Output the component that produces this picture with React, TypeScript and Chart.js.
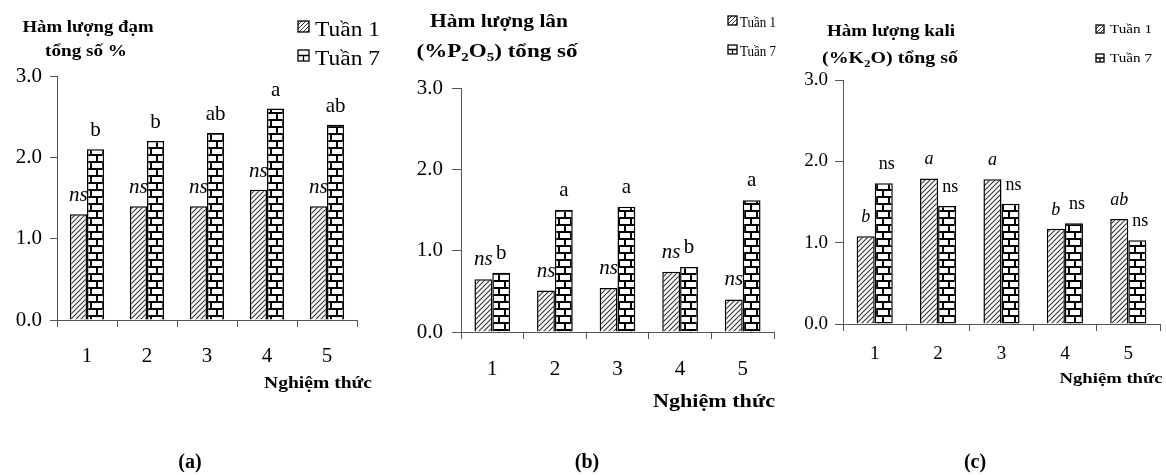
import React, { useEffect, useRef } from 'react';
import { Chart, registerables } from 'chart.js';

Chart.register(...registerables);

// ---------- data ----------
const categories = ['1', '2', '3', '4', '5'];
const yTickLabels = ['0.0', '1.0', '2.0', '3.0'];
const seriesNames = ['Tuần 1', 'Tuần 7'];

const nitrogenWeek1 = [1.3, 1.4, 1.4, 1.6, 1.4];
const nitrogenWeek7 = [2.1, 2.2, 2.3, 2.6, 2.4];
const nitrogenLabels1 = ['ns', 'ns', 'ns', 'ns', 'ns'];
const nitrogenLabels7 = ['b', 'b', 'ab', 'a', 'ab'];

const phosphorusWeek1 = [0.65, 0.51, 0.54, 0.74, 0.4];
const phosphorusWeek7 = [0.73, 1.5, 1.54, 0.8, 1.62];
const phosphorusLabels1 = ['ns', 'ns', 'ns', 'ns', 'ns'];
const phosphorusLabels7 = ['b', 'a', 'a', 'b', 'a'];

const potassiumWeek1 = [1.08, 1.79, 1.78, 1.17, 1.29];
const potassiumWeek7 = [1.73, 1.45, 1.48, 1.24, 1.03];
const potassiumLabels1 = ['b', 'a', 'a', 'b', 'ab'];
const potassiumLabels7 = ['ns', 'ns', 'ns', 'ns', 'ns'];

const xAxisTitle = 'Nghiệm thức';

// ---------- styling helpers ----------
const FAMILY = "'Liberation Serif', 'Times New Roman', serif";
const AXIS = '#555';
const W = 1166;
const H = 475;

function makeHatch(): CanvasPattern {
  const c = document.createElement('canvas');
  c.width = 5;
  c.height = 5;
  const g = c.getContext('2d')!;
  g.fillStyle = '#fff';
  g.fillRect(0, 0, 5, 5);
  g.strokeStyle = '#333';
  g.lineWidth = 1.1;
  g.beginPath();
  g.moveTo(-1, 6);
  g.lineTo(6, -1);
  g.moveTo(-1, 1);
  g.lineTo(1, -1);
  g.moveTo(4, 6);
  g.lineTo(6, 4);
  g.stroke();
  return g.createPattern(c, 'repeat')!;
}

function makeBrick(): CanvasPattern {
  const c = document.createElement('canvas');
  c.width = 12;
  c.height = 14;
  const g = c.getContext('2d')!;
  g.fillStyle = '#fff';
  g.fillRect(0, 0, 12, 14);
  g.fillStyle = '#000';
  g.fillRect(0, 0, 12, 2);
  g.fillRect(0, 7, 12, 2);
  g.fillRect(0, 2, 2, 5);
  g.fillRect(6, 9, 2, 5);
  return g.createPattern(c, 'repeat')!;
}

type Seg = { t: string; sub?: boolean };
type TextSpec = {
  segs: Seg[];
  x: number;
  y: number;
  size: number;
  bold?: boolean;
  italic?: boolean;
  w?: number;
  align?: 'center' | 'left';
};

function fontStr(size: number, bold?: boolean, italic?: boolean) {
  return `${italic ? 'italic ' : ''}${bold ? 'bold ' : ''}${size}px ${FAMILY}`;
}

function drawSpec(ctx: CanvasRenderingContext2D, s: TextSpec) {
  const widths: number[] = [];
  let total = 0;
  for (const seg of s.segs) {
    ctx.font = fontStr(seg.sub ? s.size * 0.65 : s.size, s.bold, s.italic);
    const w = ctx.measureText(seg.t).width;
    widths.push(w);
    total += w;
  }
  const sx = s.w ? s.w / total : 1;
  const x0 = s.align === 'left' ? s.x : s.x - (total * sx) / 2;
  ctx.save();
  ctx.fillStyle = '#000';
  ctx.textAlign = 'left';
  ctx.textBaseline = 'alphabetic';
  ctx.translate(x0, s.y);
  ctx.scale(sx, 1);
  let cx = 0;
  s.segs.forEach((seg, i) => {
    ctx.font = fontStr(seg.sub ? s.size * 0.65 : s.size, s.bold, s.italic);
    ctx.fillText(seg.t, cx, seg.sub ? s.size * 0.22 : 0);
    cx += widths[i];
  });
  ctx.restore();
}

type Glyph = { x: number; y: number; s: number; kind: 'hatch' | 'brick' };

function drawGlyph(ctx: CanvasRenderingContext2D, g: Glyph) {
  ctx.save();
  ctx.fillStyle = '#fff';
  ctx.fillRect(g.x, g.y, g.s, g.s);
  ctx.strokeStyle = '#000';
  ctx.lineWidth = 1.3;
  ctx.beginPath();
  ctx.rect(g.x, g.y, g.s, g.s);
  ctx.clip();
  if (g.kind === 'hatch') {
    ctx.lineWidth = 1;
    ctx.strokeStyle = '#333';
    ctx.beginPath();
    for (let k = -g.s; k < g.s * 2; k += 4) {
      ctx.moveTo(g.x + k, g.y + g.s);
      ctx.lineTo(g.x + k + g.s, g.y);
    }
    ctx.stroke();
  } else {
    ctx.lineWidth = 1.3;
    ctx.beginPath();
    ctx.moveTo(g.x, g.y + g.s / 2);
    ctx.lineTo(g.x + g.s, g.y + g.s / 2);
    ctx.moveTo(g.x + g.s / 2, g.y + g.s / 2);
    ctx.lineTo(g.x + g.s / 2, g.y + g.s);
    ctx.stroke();
  }
  ctx.restore();
  ctx.save();
  ctx.strokeStyle = '#000';
  ctx.lineWidth = 1.3;
  ctx.strokeRect(g.x, g.y, g.s, g.s);
  ctx.restore();
}

type Panel = {
  week1: number[];
  week7: number[];
  labels1: string[];
  labels7: string[];
  pad: { left: number; top: number; right: number; bottom: number };
  yW: number;
  xH: number;
  tickSize: number;
  xTickPad: number;
  yTickPad: number;
  yTickLen: number;
  labelSize: number;
  labelOff: number;
  italic1: boolean;
  italic7: boolean;
  dx7: number;
  texts: TextSpec[];
  glyphs: Glyph[];
};

const panels: Panel[] = [
  {
    week1: nitrogenWeek1,
    week7: nitrogenWeek7,
    labels1: nitrogenLabels1,
    labels7: nitrogenLabels7,
    pad: { left: 0, top: 76, right: W - 357, bottom: 0 },
    yW: 57,
    xH: H - 320,
    tickSize: 21,
    xTickPad: 17,
    yTickPad: 8,
    yTickLen: 7,
    labelSize: 21,
    labelOff: 13,
    italic1: true,
    italic7: false,
    dx7: 0,
    texts: [
      { segs: [{ t: 'Hàm lượng đạm' }], x: 88, y: 32, size: 17, bold: true, w: 131 },
      { segs: [{ t: 'tổng số %' }], x: 86, y: 56, size: 17, bold: true, w: 82 },
      { segs: [{ t: seriesNames[0] }], x: 315, y: 36, size: 20, align: 'left', w: 65 },
      { segs: [{ t: seriesNames[1] }], x: 315, y: 65, size: 20, align: 'left', w: 65 },
      { segs: [{ t: xAxisTitle }], x: 318, y: 388, size: 16, bold: true, w: 108 },
      { segs: [{ t: '(a)' }], x: 190, y: 468, size: 20, bold: true },
    ],
    glyphs: [
      { x: 298, y: 21, s: 11, kind: 'hatch' },
      { x: 298, y: 50, s: 11, kind: 'brick' },
    ],
  },
  {
    week1: phosphorusWeek1,
    week7: phosphorusWeek7,
    labels1: phosphorusLabels1,
    labels7: phosphorusLabels7,
    pad: { left: 390, top: 88, right: W - 774, bottom: 0 },
    yW: 71,
    xH: H - 332,
    tickSize: 21,
    xTickPad: 18,
    yTickPad: 9,
    yTickLen: 9,
    labelSize: 21,
    labelOff: 14,
    italic1: true,
    italic7: false,
    dx7: 0,
    texts: [
      { segs: [{ t: 'Hàm lượng lân' }], x: 499, y: 27, size: 18, bold: true, w: 138 },
      {
        segs: [{ t: '(%P' }, { t: '2', sub: true }, { t: 'O' }, { t: '5', sub: true }, { t: ') tổng số' }],
        x: 497,
        y: 57,
        size: 18,
        bold: true,
        w: 161,
      },
      { segs: [{ t: seriesNames[0] }], x: 740, y: 27, size: 15, align: 'left', w: 36 },
      { segs: [{ t: seriesNames[1] }], x: 740, y: 56, size: 15, align: 'left', w: 36 },
      { segs: [{ t: xAxisTitle }], x: 714, y: 407, size: 18, bold: true, w: 122 },
      { segs: [{ t: '(b)' }], x: 587, y: 468, size: 20, bold: true },
    ],
    glyphs: [
      { x: 728, y: 16, s: 9, kind: 'hatch' },
      { x: 728, y: 45, s: 9, kind: 'brick' },
    ],
  },
  {
    week1: potassiumWeek1,
    week7: potassiumWeek7,
    labels1: potassiumLabels1,
    labels7: potassiumLabels7,
    pad: { left: 780, top: 80, right: W - 1160, bottom: 0 },
    yW: 63,
    xH: H - 324,
    tickSize: 19,
    xTickPad: 12,
    yTickPad: 7,
    yTickLen: 8,
    labelSize: 18,
    labelOff: 14,
    italic1: true,
    italic7: false,
    dx7: 3,
    texts: [
      { segs: [{ t: 'Hàm lượng kali' }], x: 891, y: 36, size: 17, bold: true, w: 128 },
      {
        segs: [{ t: '(%K' }, { t: '2', sub: true }, { t: 'O) tổng số' }],
        x: 890,
        y: 63,
        size: 17,
        bold: true,
        w: 136,
      },
      { segs: [{ t: seriesNames[0] }], x: 1110, y: 33, size: 12, align: 'left', w: 42 },
      { segs: [{ t: seriesNames[1] }], x: 1110, y: 62, size: 12, align: 'left', w: 42 },
      { segs: [{ t: xAxisTitle }], x: 1111, y: 383, size: 15, bold: true, w: 103 },
      { segs: [{ t: '(c)' }], x: 975, y: 468, size: 20, bold: true },
    ],
    glyphs: [
      { x: 1096, y: 25, s: 8, kind: 'hatch' },
      { x: 1096, y: 54, s: 8, kind: 'brick' },
    ],
  },
];

function makeChart(canvas: HTMLCanvasElement, p: Panel): Chart {
  const hatch = makeHatch();
  const brick = makeBrick();

  const annotatePlugin = {
    id: 'annotate',
    afterDatasetsDraw(chart: any) {
      const ctx: CanvasRenderingContext2D = chart.ctx;
      const sets = [
        { labels: p.labels1, italic: p.italic1, dx: 0 },
        { labels: p.labels7, italic: p.italic7, dx: p.dx7 },
      ];
      ctx.save();
      ctx.fillStyle = '#000';
      ctx.textAlign = 'center';
      ctx.textBaseline = 'alphabetic';
      sets.forEach((s, i) => {
        const meta = chart.getDatasetMeta(i);
        ctx.font = fontStr(p.labelSize, false, s.italic);
        meta.data.forEach((el: any, j: number) => {
          ctx.fillText(s.labels[j], el.x + s.dx, el.y - p.labelOff);
        });
      });
      ctx.restore();
    },
    afterDraw(chart: any) {
      const ctx: CanvasRenderingContext2D = chart.ctx;
      p.texts.forEach((t) => drawSpec(ctx, t));
      p.glyphs.forEach((g) => drawGlyph(ctx, g));
    },
  };

  return new Chart(canvas, {
    type: 'bar',
    data: {
      labels: categories,
      datasets: [
        {
          label: seriesNames[0],
          data: p.week1,
          backgroundColor: hatch as any,
          borderColor: '#000',
          borderWidth: 1.5,
          categoryPercentage: 0.57,
          barPercentage: 1,
        },
        {
          label: seriesNames[1],
          data: p.week7,
          backgroundColor: brick as any,
          borderColor: '#000',
          borderWidth: 1.5,
          categoryPercentage: 0.57,
          barPercentage: 1,
        },
      ],
    },
    options: {
      animation: false,
      responsive: false,
      devicePixelRatio: 1,
      events: [],
      layout: { padding: p.pad },
      plugins: {
        legend: { display: false },
        tooltip: { enabled: false },
        title: { display: false },
      },
      scales: {
        x: {
          grid: {
            offset: true,
            drawOnChartArea: false,
            drawTicks: true,
            tickLength: 7,
            color: AXIS,
          },
          border: { display: true, color: AXIS, width: 1 },
          ticks: {
            color: '#000',
            font: { family: FAMILY, size: p.tickSize },
            padding: p.xTickPad,
            maxRotation: 0,
            autoSkip: false,
          },
          afterFit: (s: any) => {
            s.height = p.xH;
          },
        },
        y: {
          min: 0,
          max: 3,
          grid: {
            drawOnChartArea: false,
            drawTicks: true,
            tickLength: p.yTickLen,
            color: AXIS,
          },
          border: { display: true, color: AXIS, width: 1 },
          ticks: {
            stepSize: 1,
            color: '#000',
            font: { family: FAMILY, size: p.tickSize },
            padding: p.yTickPad,
            callback: (v: any) => yTickLabels[Math.round(Number(v))],
          },
          afterFit: (s: any) => {
            s.width = p.yW;
          },
        },
      },
    } as any,
    plugins: [annotatePlugin],
  });
}

export default function App() {
  const r0 = useRef<HTMLCanvasElement>(null);
  const r1 = useRef<HTMLCanvasElement>(null);
  const r2 = useRef<HTMLCanvasElement>(null);

  useEffect(() => {
    const refs = [r0, r1, r2];
    const charts: Chart[] = [];
    refs.forEach((r, i) => {
      if (r.current) charts.push(makeChart(r.current, panels[i]));
    });
    return () => {
      charts.forEach((c) => c.destroy());
    };
  }, []);

  const cs: React.CSSProperties = { position: 'absolute', left: 0, top: 0, width: W, height: H };
  return (
    <div style={{ position: 'fixed', left: 0, top: 0, width: W, height: H, background: '#fff', overflow: 'hidden' }}>
      <canvas ref={r0} width={W} height={H} style={cs} />
      <canvas ref={r1} width={W} height={H} style={cs} />
      <canvas ref={r2} width={W} height={H} style={cs} />
    </div>
  );
}
